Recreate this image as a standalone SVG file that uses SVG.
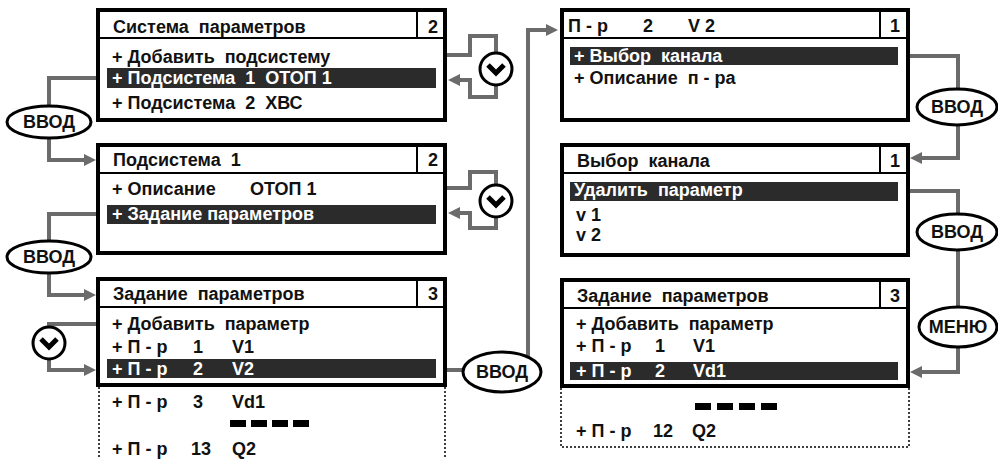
<svg xmlns="http://www.w3.org/2000/svg" width="998" height="459" viewBox="0 0 998 459">
<defs>
<style>
.frame{fill:#fff;stroke:#000;stroke-width:4}
.hdr{stroke:#000;stroke-width:2;fill:none}
.hl{fill:#2b2b2b}
.t{font-family:"Liberation Sans",Arial,sans-serif;font-weight:bold;font-size:18px;fill:#111;white-space:pre}
.w{fill:#fff}
.dot{fill:none;stroke:#000;stroke-width:1.5;stroke-dasharray:2 2}
.dash{fill:#000}
.con{fill:none;stroke:#6b6b6b;stroke-width:4}
.btn{fill:#fff;stroke:#000;stroke-width:3}
.bt{font-family:"Liberation Sans",Arial,sans-serif;font-weight:bold;font-size:18px;fill:#111;text-anchor:middle}
.chev{fill:none;stroke:#000;stroke-width:5;stroke-linejoin:miter}
</style>
<marker id="ah" viewBox="0 0 12 12" refX="4" refY="6" markerWidth="12" markerHeight="12" markerUnits="userSpaceOnUse" orient="auto"><path d="M0,0 L12,6 L0,12 z" fill="#6b6b6b"/></marker>
<g id="chevron"><circle r="16" class="btn"/><path d="M-8,-4 L0,4 L8,-4" class="chev"/></g>
</defs>

<g id="connectors">
<path class="con" d="M96,78 H49 V106"/>
<path class="con" marker-end="url(#ah)" d="M49,138 V160 H88"/>
<path class="con" d="M96,214 H49 V241"/>
<path class="con" marker-end="url(#ah)" d="M49,273 V295 H88"/>
<path class="con" d="M96,324 H49 V327"/>
<path class="con" marker-end="url(#ah)" d="M49,359 V370 H88"/>
<path class="con" d="M447,55 H470 V36 H496 V53"/>
<path class="con" marker-end="url(#ah)" d="M496,85 V97 H470 V80 H456"/>
<path class="con" d="M447,188 H470 V172 H496 V185"/>
<path class="con" marker-end="url(#ah)" d="M496,217 V228 H470 V213 H456"/>
<path class="con" d="M447,370 H463"/>
<path class="con" marker-end="url(#ah)" d="M528,357 V30 H550"/>
<path class="con" d="M910,56 H958 V89"/>
<path class="con" marker-end="url(#ah)" d="M958,125 V158 H918"/>
<path class="con" d="M910,191 H958 V214"/>
<path class="con" d="M958,250 V307"/>
<path class="con" marker-end="url(#ah)" d="M958,347 V372 H918"/>
</g>

<g id="btn-vvod-1"><ellipse cx="49" cy="122" rx="42" ry="16" class="btn"/><text x="49" y="128" class="bt">ВВОД</text></g>
<g id="btn-vvod-2"><ellipse cx="49" cy="257" rx="42" ry="16" class="btn"/><text x="49" y="263" class="bt">ВВОД</text></g>
<g id="btn-down-1"><use href="#chevron" x="49" y="343"/></g>
<g id="btn-down-2"><use href="#chevron" x="496" y="69"/></g>
<g id="btn-down-3"><use href="#chevron" x="496" y="201"/></g>
<g id="btn-vvod-3"><ellipse cx="502" cy="372" rx="39" ry="20" class="btn"/><text x="502" y="378" class="bt">ВВОД</text></g>
<g id="btn-vvod-4"><ellipse cx="957" cy="107" rx="40" ry="18" class="btn"/><text x="957" y="113" class="bt">ВВОД</text></g>
<g id="btn-vvod-5"><ellipse cx="957" cy="232" rx="40" ry="18" class="btn"/><text x="957" y="238" class="bt">ВВОД</text></g>
<g id="btn-menu"><ellipse cx="958" cy="327" rx="39" ry="20" class="btn"/><text x="958" y="333" class="bt">МЕНЮ</text></g>

<g id="box-sys">
<rect x="98" y="10" width="347" height="110" class="frame"/>
<path class="hdr" d="M98,38 H445 M417,10 V38"/>
<text x="113" y="33" class="t">Система  параметров</text>
<text x="433" y="33" class="t" text-anchor="middle">2</text>
<text x="112" y="63" class="t">+ Добавить  подсистему</text>
<rect x="107" y="68" width="329" height="20" class="hl"/>
<text x="112" y="84" class="t w">+ Подсистема  1  ОТОП 1</text>
<text x="112" y="109" class="t">+ Подсистема  2  ХВС</text>
</g>

<g id="box-sub1">
<rect x="98" y="145" width="347" height="108" class="frame"/>
<path class="hdr" d="M98,173 H445 M417,145 V173"/>
<text x="113" y="166" class="t">Подсистема  1</text>
<text x="433" y="166" class="t" text-anchor="middle">2</text>
<text class="t" y="195"><tspan x="112">+ Описание</tspan><tspan x="250">ОТОП 1</tspan></text>
<rect x="107" y="205" width="329" height="19" class="hl"/>
<text x="112" y="220" class="t w">+ Задание параметров</text>
</g>

<g id="box-params-left">
<rect x="98" y="279" width="347" height="106" class="frame"/>
<path class="hdr" d="M98,307 H445 M417,279 V307"/>
<text x="113" y="300" class="t">Задание  параметров</text>
<text x="433" y="300" class="t" text-anchor="middle">3</text>
<text x="112" y="330" class="t">+ Добавить  параметр</text>
<text class="t" y="353"><tspan x="112">+ П - р</tspan><tspan x="193">1</tspan><tspan x="232">V1</tspan></text>
<rect x="107" y="359" width="329" height="19" class="hl"/>
<text class="t w" y="375"><tspan x="112">+ П - р</tspan><tspan x="193">2</tspan><tspan x="232">V2</tspan></text>
<path class="dot" d="M99,387 V459 M445,387 V459"/>
<text class="t" y="408"><tspan x="112">+ П - р</tspan><tspan x="193">3</tspan><tspan x="232">Vd1</tspan></text>
<rect x="230" y="420" width="16" height="7" class="dash"/><rect x="251" y="420" width="16" height="7" class="dash"/><rect x="272" y="420" width="16" height="7" class="dash"/><rect x="293" y="420" width="16" height="7" class="dash"/>
<text class="t" y="455"><tspan x="112">+ П - р</tspan><tspan x="191">13</tspan><tspan x="232">Q2</tspan></text>
</g>

<g id="box-par2">
<rect x="562" y="10" width="346" height="110" class="frame"/>
<path class="hdr" d="M562,38 H908 M880,10 V38"/>
<text class="t" y="32"><tspan x="568">П - р</tspan><tspan x="643">2</tspan><tspan x="688">V 2</tspan></text>
<text x="895" y="32" class="t" text-anchor="middle">1</text>
<rect x="570" y="47" width="328" height="18" class="hl"/>
<text x="574" y="62" class="t w">+ Выбор  канала</text>
<text x="574" y="84" class="t">+ Описание  п - ра</text>
</g>

<g id="box-channel">
<rect x="562" y="145" width="346" height="110" class="frame"/>
<path class="hdr" d="M562,173 H908 M880,145 V173"/>
<text x="577" y="167" class="t">Выбор  канала</text>
<text x="895" y="167" class="t" text-anchor="middle">1</text>
<rect x="570" y="182" width="328" height="19" class="hl"/>
<text x="574" y="196" class="t w">Удалить  параметр</text>
<text x="576" y="221" class="t">v 1</text>
<text x="576" y="241" class="t">v 2</text>
</g>

<g id="box-params-right">
<rect x="562" y="280" width="346" height="106" class="frame"/>
<path class="hdr" d="M562,308 H908 M880,280 V308"/>
<text x="577" y="302" class="t">Задание  параметров</text>
<text x="895" y="302" class="t" text-anchor="middle">3</text>
<text x="576" y="330" class="t">+ Добавить  параметр</text>
<text class="t" y="352"><tspan x="576">+ П - р</tspan><tspan x="655">1</tspan><tspan x="693">V1</tspan></text>
<rect x="570" y="362" width="328" height="18" class="hl"/>
<text class="t w" y="377"><tspan x="576">+ П - р</tspan><tspan x="655">2</tspan><tspan x="693">Vd1</tspan></text>
<path class="dot" d="M561,388 V447 H909 V388"/>
<rect x="695" y="403" width="16" height="7" class="dash"/><rect x="717" y="403" width="16" height="7" class="dash"/><rect x="739" y="403" width="16" height="7" class="dash"/><rect x="761" y="403" width="16" height="7" class="dash"/>
<text class="t" y="437"><tspan x="576">+ П - р</tspan><tspan x="653">12</tspan><tspan x="692">Q2</tspan></text>
</g>
</svg>
